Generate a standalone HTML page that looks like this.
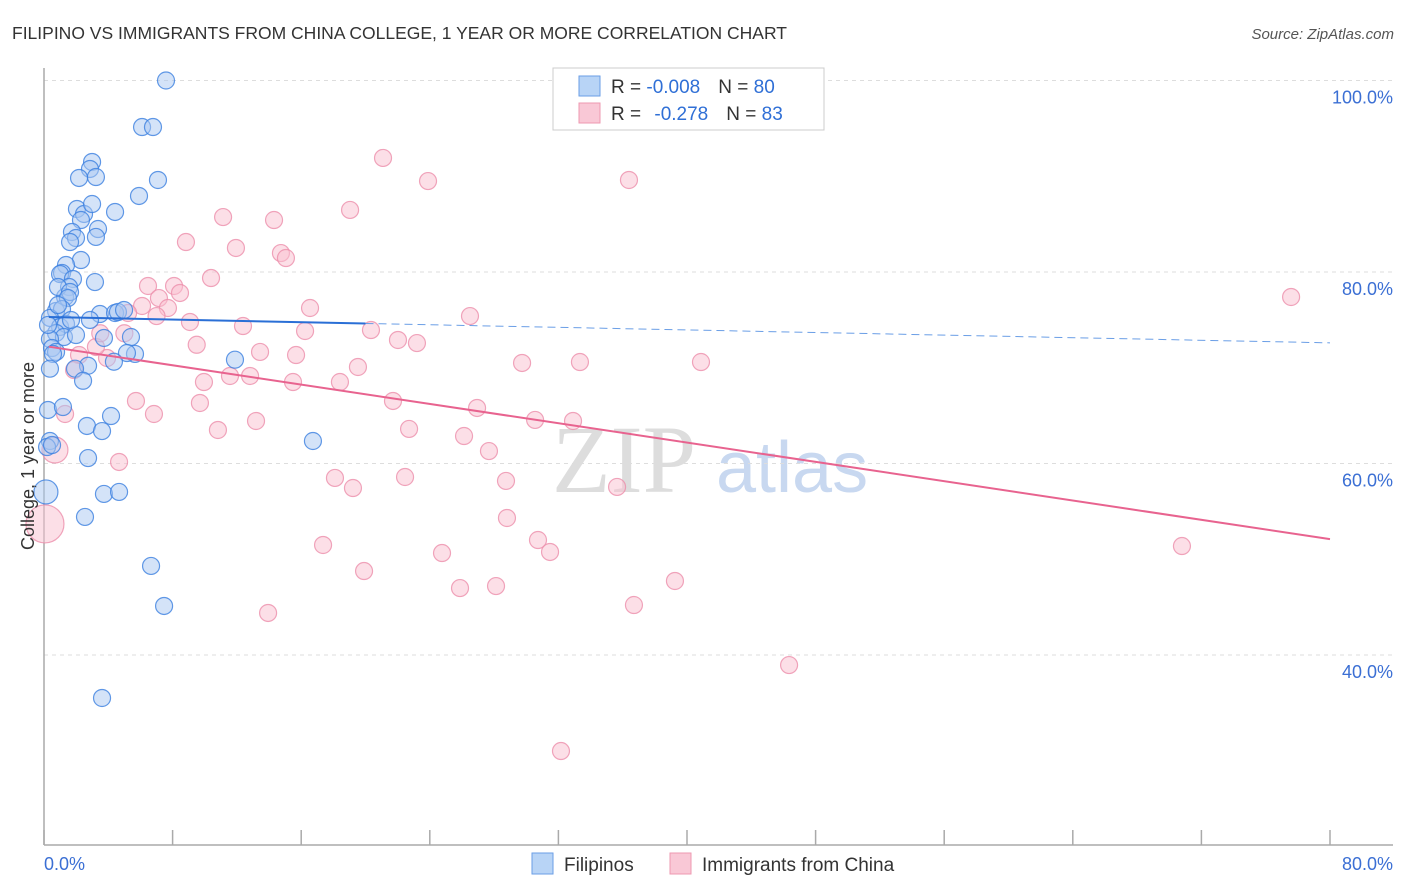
<!DOCTYPE html>
<html><head><meta charset="utf-8"><style>
body{margin:0;background:#fff;font-family:"Liberation Sans",sans-serif;}
svg{display:block}
</style></head><body>
<svg width="1406" height="892" xmlns="http://www.w3.org/2000/svg">
<text x="12" y="39" font-size="17.5" fill="#333">FILIPINO VS IMMIGRANTS FROM CHINA COLLEGE, 1 YEAR OR MORE CORRELATION CHART</text>
<text x="1394" y="39" font-size="15" fill="#555" font-style="italic" text-anchor="end">Source: ZipAtlas.com</text>
<g>
<text x="552" y="492" font-size="96" fill="#ddd" font-family="Liberation Serif,serif">ZIP</text>
<text x="716" y="492" font-size="72" fill="#c8d8f0">atlas</text>
</g>
<g id="grid"></g>
<g id="axes"></g>
<g id="marks"></g>
<g>
<rect x="553" y="68" width="271" height="62" fill="#fff" stroke="#ccc"/>
<rect x="579" y="76" width="21" height="20" fill="#b8d4f6" stroke="#6a9ee6"/>
<rect x="579" y="103" width="21" height="20" fill="#f9c8d6" stroke="#ee98b0"/>
<text x="611" y="93" font-size="19" fill="#333">R = <tspan fill="#2f6fd6">-0.008</tspan><tspan dx="18">N = </tspan><tspan fill="#2f6fd6">80</tspan></text>
<text x="611" y="120" font-size="19" fill="#333">R = <tspan dx="8" fill="#2f6fd6">-0.278</tspan><tspan dx="18">N = </tspan><tspan fill="#2f6fd6">83</tspan></text>
</g>
<text transform="translate(34,456) rotate(-90)" font-size="18" fill="#333" text-anchor="middle">College, 1 year or more</text>
<g>
<rect x="532" y="853" width="21" height="21" fill="#b8d4f6" stroke="#6a9ee6"/>
<text x="564" y="871" font-size="19" fill="#333">Filipinos</text>
<rect x="670" y="853" width="21" height="21" fill="#f9c8d6" stroke="#ee98b0"/>
<text x="702" y="871" font-size="19" fill="#333">Immigrants from China</text>
</g>
</svg>
<script>
const yTicks=[40,60,80,100];
const xTickLabels=["0.0%","80.0%"];
const blueX=[7.59,6.10,6.78,2.99,2.86,3.23,2.18,7.09,5.91,2.05,4.42,2.49,2.99,2.30,1.74,3.36,1.99,3.23,1.62,2.30,1.37,1.12,1.00,3.17,1.80,1.56,1.31,0.87,1.62,1.49,0.75,1.12,0.37,1.00,1.37,0.75,1.24,0.37,1.99,3.48,4.42,4.60,4.98,3.73,5.41,0.50,0.75,0.56,5.66,5.16,0.37,2.74,1.93,2.43,4.35,11.88,0.25,1.18,4.17,2.67,3.61,0.37,0.19,2.74,16.73,0.12,3.73,4.67,2.55,6.66,7.47,3.61,0.50,0.25,0.87,1.68,2.86];
const blueY=[100.0,95.14,95.14,91.49,90.76,89.92,89.82,89.61,87.94,86.58,86.27,86.06,87.10,85.43,84.18,84.49,83.55,83.66,83.13,81.25,80.73,79.90,79.79,78.95,79.27,78.43,77.39,78.43,77.91,77.28,75.93,76.13,75.20,74.26,74.57,73.63,73.21,73.00,73.42,75.61,75.72,75.82,76.03,73.11,73.21,72.06,71.65,71.44,71.44,71.54,69.90,70.21,69.90,68.64,70.63,70.84,65.59,65.90,64.96,63.92,63.39,62.35,61.72,60.57,62.35,57.03,56.82,57.03,54.42,49.30,45.12,35.51,61.93,74.47,76.55,74.99,74.99];
const pinkX=[21.09,36.39,23.89,11.14,14.31,19.04,8.83,11.94,14.74,15.05,10.39,6.47,8.09,8.46,7.15,6.10,7.71,16.55,9.08,12.38,16.24,26.50,20.34,22.02,23.20,77.58,13.44,15.68,3.92,2.18,3.23,5.23,19.53,29.74,33.34,40.87,9.95,11.57,12.82,15.49,18.41,9.70,1.87,5.72,6.84,1.31,10.82,13.19,21.71,22.71,26.94,30.55,32.91,26.13,27.68,0.68,4.67,18.10,22.46,19.22,28.74,35.65,28.80,17.36,30.73,24.76,31.48,70.79,19.91,25.88,28.12,39.25,36.70,13.94,46.35,32.16,0.06,3.5,5.0,7.0,9.5];
const pinkY=[91.91,89.61,89.50,85.74,85.43,86.48,83.13,82.51,81.98,81.46,79.37,78.54,78.54,77.81,77.28,76.45,76.24,76.24,74.78,74.36,73.84,75.40,73.94,72.90,72.58,77.39,71.65,71.33,71.02,71.33,72.17,75.72,70.08,70.50,70.60,70.60,68.51,69.14,69.14,68.51,68.51,66.32,69.76,66.53,65.17,65.17,63.50,64.44,66.53,63.61,65.80,64.55,64.44,62.87,61.30,61.41,60.16,58.49,58.59,57.44,58.18,57.55,54.31,51.49,52.01,50.65,50.76,51.38,48.77,46.99,47.20,47.73,45.22,44.39,38.95,29.97,53.69,73.6,73.6,75.4,72.4];
const blueTrend=[75.3,72.6];
const pinkTrend=[72.2,52.1];
const NS="http://www.w3.org/2000/svg";
const X0=44,X1=1330;
function sx(v){return X0+(v/80)*(X1-X0);}
function sy(v){return 80.5+(100-v)*191.5/20;}
function mk(tag,attrs,parent){const e=document.createElementNS(NS,tag);for(const k in attrs)e.setAttribute(k,attrs[k]);parent.appendChild(e);return e;}
const grid=document.getElementById('grid'),axes=document.getElementById('axes'),marks=document.getElementById('marks');
yTicks.forEach(t=>{
 const l=mk('line',{x1:44,x2:1393,y1:sy(t),y2:sy(t),stroke:'#ddd','stroke-dasharray':'4,4'},grid);
 
 
 const tx=mk('text',{x:1393,y:sy(t)+23,'font-size':18,fill:'#3b6fd4','text-anchor':'end'},axes);
 tx.textContent=t.toFixed(1)+'%';
 
 
});
const ya=mk('line',{x1:44,x2:44,y1:68,y2:845,stroke:'#aaa','stroke-width':1.5},axes);


const xa=mk('line',{x1:44,x2:1393,y1:845,y2:845,stroke:'#aaa','stroke-width':1.5},axes);


for(let i=0;i<=10;i++){
 const t=mk('line',{x1:sx(i*8),x2:sx(i*8),y1:830,y2:845,stroke:'#aaa','stroke-width':1.5},axes);
 
 
}
[0,80].forEach((v,i)=>{
 const tx=mk('text',{x:i?1393:44,y:870,'font-size':18,fill:'#3b6fd4','text-anchor':i?'end':'start'},axes);
 tx.textContent=xTickLabels[i];
 
 
});
function pts(xs,ys,fill,stroke,name,big){
 xs.forEach((x,i)=>{
  const r=big[i]||8.5;
  const c=mk('circle',{cx:sx(x),cy:sy(ys[i]),r:r,fill:fill,'fill-opacity':0.5,stroke:stroke,'stroke-width':1.2,'stroke-opacity':0.8},marks);
  
  
 });
}
pts(pinkX,pinkY,'#f9c0d0','#ec8fab','china-point',{55:13,76:19});
pts(blueX,blueY,'#a9c8f2','#3b7fe0','filipino-point',{65:12});
const bEnd=20;
const bl=mk('line',{x1:sx(0.3),y1:sy(blueTrend[0]),x2:sx(bEnd),y2:sy(blueTrend[0]+(blueTrend[1]-blueTrend[0])*bEnd/80),stroke:'#2a6fd6','stroke-width':2},marks);


const bd=mk('line',{x1:sx(bEnd),y1:sy(blueTrend[0]+(blueTrend[1]-blueTrend[0])*bEnd/80),x2:sx(80),y2:sy(blueTrend[1]),stroke:'#6a9ee6','stroke-width':1,'stroke-dasharray':'8,5'},marks);


const pl=mk('line',{x1:sx(0.3),y1:sy(pinkTrend[0]),x2:sx(80),y2:sy(pinkTrend[1]),stroke:'#e8638f','stroke-width':2},marks);


</script>
</body></html>
